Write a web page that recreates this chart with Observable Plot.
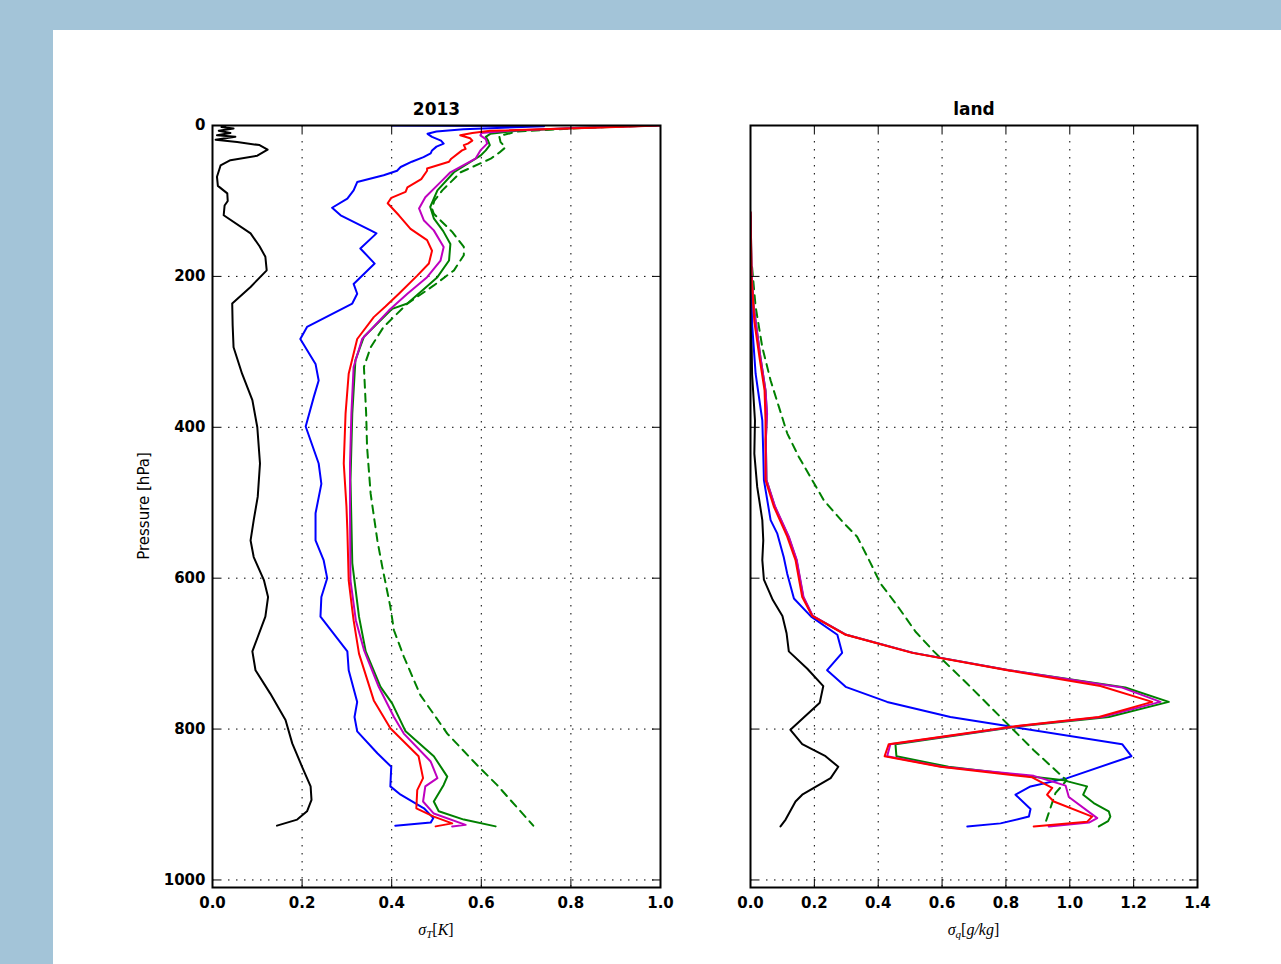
<!DOCTYPE html>
<html><head><meta charset="utf-8">
<script src="https://cdn.jsdelivr.net/npm/d3@7"></script>
<script src="https://cdn.jsdelivr.net/npm/@observablehq/plot@0.6"></script>
<style>
html,body{margin:0;padding:0;width:1281px;height:964px;overflow:hidden;background:#a3c4d8;}
#panel{position:absolute;left:53px;top:30px;width:1228px;height:934px;background:#fff;}
.chart{position:absolute;}
.chart svg{max-width:none;}
</style></head><body>
<div id="panel"></div>
<div id="left" class="chart" style="left:100px;top:90px;width:580px;height:860px"></div>
<div id="right" class="chart" style="left:700px;top:90px;width:520px;height:860px"></div>
<script>
// ---------- data: [pressure hPa, value] ----------
const pressureTicks = [0, 200, 400, 600, 800, 1000];
const tempTicks = [0, 0.2, 0.4, 0.6, 0.8, 1.0];
const humTicks = [0, 0.2, 0.4, 0.6, 0.8, 1.0, 1.2, 1.4];

// left panel: sigma_T [K]
const blackT = [[0,0.03],[2,0.02],[4,0.047],[7,0.014],[10,0.04],[13,0.01],[15,0.051],[19,0.007],[22,0.055],[26,0.105],[32,0.123],[40,0.10],[46,0.04],[53,0.018],[68,0.010],[80,0.012],[90,0.033],[100,0.034],[106,0.027],[119,0.025],[143,0.085],[160,0.105],[174,0.118],[192,0.121],[214,0.085],[236,0.044],[265,0.045],[294,0.047],[329,0.066],[364,0.089],[400,0.1],[448,0.106],[492,0.101],[523,0.092],[550,0.085],[572,0.092],[603,0.115],[625,0.124],[651,0.118],[697,0.089],[722,0.096],[753,0.129],[788,0.163],[819,0.178],[850,0.2],[876,0.219],[894,0.221],[909,0.211],[920,0.189],[928,0.144]];
const blueT = [[0,0.40],[1,0.74],[5,0.56],[8,0.50],[11,0.48],[15,0.49],[20,0.51],[24,0.516],[28,0.50],[33,0.49],[37,0.487],[42,0.471],[48,0.445],[55,0.42],[60,0.412],[66,0.382],[75,0.323],[86,0.315],[97,0.301],[109,0.267],[119,0.286],[139,0.353],[143,0.366],[163,0.33],[183,0.362],[210,0.315],[223,0.323],[236,0.312],[267,0.211],[283,0.196],[316,0.23],[338,0.237],[360,0.226],[399,0.208],[448,0.237],[475,0.243],[514,0.23],[550,0.23],[576,0.248],[600,0.256],[625,0.243],[651,0.241],[697,0.301],[722,0.304],[764,0.323],[784,0.317],[803,0.323],[832,0.368],[850,0.399],[876,0.397],[887,0.42],[905,0.472],[918,0.493],[924,0.487],[928,0.408]];
const redT = [[0,1.0],[3,0.85],[7,0.62],[10,0.58],[13,0.553],[17,0.575],[20,0.58],[24,0.57],[26,0.561],[31,0.565],[33,0.557],[44,0.533],[48,0.528],[57,0.479],[60,0.479],[71,0.466],[82,0.435],[88,0.431],[96,0.399],[103,0.391],[119,0.416],[137,0.442],[152,0.479],[166,0.49],[183,0.483],[199,0.457],[223,0.416],[240,0.386],[254,0.36],[283,0.323],[329,0.304],[382,0.297],[448,0.293],[505,0.299],[536,0.301],[603,0.304],[642,0.312],[656,0.315],[700,0.327],[762,0.36],[799,0.397],[836,0.46],[865,0.47],[881,0.457],[905,0.455],[916,0.494],[925,0.535],[929,0.498]];
const magentaT = [[0,1.0],[3,0.82],[7,0.66],[10,0.6],[13,0.598],[18,0.61],[24,0.613],[33,0.598],[44,0.587],[62,0.531],[75,0.509],[95,0.475],[110,0.461],[126,0.472],[139,0.494],[161,0.516],[179,0.509],[201,0.479],[223,0.435],[245,0.394],[283,0.334],[320,0.315],[382,0.31],[448,0.307],[514,0.307],[603,0.308],[656,0.32],[695,0.338],[744,0.371],[784,0.405],[806,0.427],[843,0.487],[865,0.502],[876,0.475],[896,0.47],[912,0.494],[927,0.565],[929,0.535]];
const greenT = [[0,0.99],[3,0.82],[7,0.68],[11,0.62],[15,0.61],[20,0.615],[26,0.619],[33,0.61],[40,0.598],[62,0.539],[86,0.502],[108,0.486],[123,0.494],[140,0.515],[157,0.531],[179,0.528],[201,0.502],[236,0.435],[243,0.401],[280,0.338],[311,0.319],[382,0.312],[470,0.308],[580,0.312],[651,0.327],[697,0.342],[744,0.375],[766,0.401],[803,0.431],[836,0.494],[863,0.524],[874,0.516],[896,0.494],[909,0.505],[920,0.561],[929,0.632]];
const dashedT = [[0,0.98],[4,0.8],[8,0.68],[14,0.64],[22,0.643],[29,0.654],[36,0.64],[44,0.621],[62,0.554],[86,0.513],[100,0.495],[110,0.49],[117,0.494],[141,0.535],[161,0.561],[172,0.561],[192,0.539],[212,0.494],[236,0.435],[267,0.382],[294,0.353],[320,0.338],[382,0.343],[426,0.345],[488,0.353],[550,0.368],[585,0.379],[638,0.397],[669,0.405],[704,0.427],[755,0.464],[806,0.524],[848,0.591],[874,0.635],[928,0.716]];

// right panel: sigma_q [g/kg]
const blackQ = [[120,0.0],[250,0.002],[330,0.005],[391,0.014],[435,0.012],[479,0.021],[523,0.037],[550,0.04],[576,0.037],[602,0.042],[629,0.07],[650,0.1],[673,0.113],[697,0.12],[720,0.178],[743,0.228],[765,0.217],[801,0.125],[820,0.162],[836,0.235],[850,0.275],[865,0.251],[887,0.162],[896,0.141],[920,0.11],[929,0.094]];
const blueQ = [[150,0.0],[263,0.005],[329,0.016],[391,0.037],[435,0.04],[470,0.042],[523,0.063],[541,0.084],[572,0.104],[594,0.115],[627,0.136],[651,0.19],[675,0.272],[699,0.287],[722,0.24],[744,0.298],[764,0.428],[784,0.626],[796,0.804],[820,1.164],[836,1.193],[865,0.992],[876,0.877],[887,0.83],[906,0.877],[916,0.872],[925,0.783],[929,0.679]];
const redQ = [[115,0.0],[200,0.003],[260,0.012],[307,0.028],[351,0.044],[391,0.047],[470,0.047],[505,0.073],[545,0.115],[576,0.141],[625,0.162],[650,0.193],[675,0.298],[699,0.506],[722,0.804],[743,1.096],[764,1.258],[784,1.091],[796,0.835],[820,0.433],[836,0.42],[850,0.595],[864,0.882],[878,0.945],[887,0.929],[896,0.95],[916,1.07],[923,1.054],[929,0.887]];
const magentaQ = [[115,0.0],[200,0.004],[240,0.01],[307,0.031],[351,0.047],[382,0.052],[417,0.048],[470,0.05],[505,0.077],[545,0.12],[576,0.145],[625,0.166],[650,0.195],[675,0.3],[699,0.51],[722,0.81],[745,1.164],[764,1.284],[784,1.1],[796,0.84],[820,0.438],[836,0.428],[850,0.6],[862,0.887],[875,0.987],[890,0.997],[918,1.086],[924,1.06],[929,0.934]];
const greenQ = [[115,0.0],[200,0.004],[240,0.01],[307,0.031],[351,0.047],[382,0.051],[417,0.048],[470,0.05],[505,0.076],[545,0.119],[576,0.144],[625,0.165],[650,0.194],[675,0.3],[699,0.51],[722,0.81],[745,1.174],[764,1.31],[784,1.122],[796,0.85],[820,0.454],[836,0.457],[850,0.62],[868,0.981],[876,1.054],[887,1.042],[898,1.075],[909,1.122],[916,1.127],[922,1.12],[929,1.091]];
const dashedQ = [[188,0.005],[240,0.016],[294,0.037],[338,0.063],[373,0.089],[408,0.115],[439,0.151],[497,0.23],[527,0.292],[545,0.334],[580,0.376],[607,0.407],[636,0.459],[671,0.517],[697,0.574],[740,0.679],[784,0.783],[828,0.887],[868,0.99],[885,0.955],[929,0.92]];

// ---------- drawing ----------
const styles = {
  black: {stroke: "#000000"},
  blue: {stroke: "#0000ff"},
  dashed: {stroke: "#008000", strokeDasharray: "8,6"},
  green: {stroke: "#008000"},
  magenta: {stroke: "#bf00bf"},
  red: {stroke: "#ff0000"}
};

function makeChart(cfg) {
  const height = 860, marginTop = 35, marginBottom = 63;
  const innerW = cfg.width - cfg.marginLeft - cfg.marginRight;
  const innerH = height - marginTop - marginBottom;
  const gridStyle = {stroke: "black", strokeOpacity: 1, strokeWidth: 1, strokeDasharray: "1.5,6.5"};
  const marks = [
    Plot.gridX(cfg.xTicks, gridStyle),
    Plot.gridY(pressureTicks, gridStyle),
    ...cfg.series.map(([data, key]) => Plot.line(data, {x: d => d[1], y: d => d[0], strokeWidth: 2, clip: true, ...styles[key]})),
    Plot.tickX(cfg.xTicks, {x: d => d, insetTop: innerH - 8, stroke: "black"}),
    Plot.tickX(cfg.xTicks, {x: d => d, insetBottom: innerH - 8, stroke: "black"}),
    Plot.tickY(pressureTicks, {y: d => d, insetRight: innerW - 8, stroke: "black"}),
    Plot.tickY(pressureTicks, {y: d => d, insetLeft: innerW - 8, stroke: "black"}),
    Plot.frame({stroke: "black", strokeWidth: 2}),
    Plot.axisX(cfg.xTicks, {anchor: "bottom", tickSize: 0, tickPadding: 10, tickFormat: d3.format(".1f"), fontWeight: "bold", label: null}),
    Plot.text([cfg.title], {frameAnchor: "top", dy: -23, fontWeight: "bold", fontSize: 17})
  ];
  if (cfg.showY) marks.push(Plot.axisY(pressureTicks, {anchor: "left", tickSize: 0, tickPadding: 7, tickFormat: d3.format("d"), fontWeight: "bold", label: null}));
  const svg = Plot.plot({
    width: cfg.width, height,
    marginLeft: cfg.marginLeft, marginRight: cfg.marginRight, marginTop, marginBottom,
    x: {domain: cfg.xDomain, label: null},
    y: {domain: [0, 1010], reverse: true, label: null, axis: cfg.showY ? undefined : null},
    style: {fontFamily: "DejaVu Sans", fontSize: "15px", color: "black", background: "transparent", overflow: "visible", maxWidth: "none"},
    marks
  });
  const s = d3.select(svg);
  const cx = cfg.marginLeft + innerW / 2;
  const t = s.append("text").attr("x", cx).attr("y", 845).attr("text-anchor", "middle")
    .style("font-family", "'Liberation Serif', serif").style("font-size", "16px").attr("fill", "black");
  t.append("tspan").style("font-style", "italic").text("σ");
  t.append("tspan").style("font-style", "italic").style("font-size", "11px").attr("dy", 3).text(cfg.sub);
  t.append("tspan").attr("dy", -3).text("[");
  t.append("tspan").style("font-style", "italic").text(cfg.unit);
  t.append("tspan").text("]");
  if (cfg.yLabel) {
    s.append("text").attr("transform", `translate(44, ${marginTop + innerH / 2}) rotate(-90)`)
      .attr("text-anchor", "middle").attr("dominant-baseline", "central")
      .style("font-family", "'DejaVu Sans', sans-serif").style("font-size", "15px").attr("fill", "black")
      .text(cfg.yLabel);
  }
  return svg;
}

document.getElementById("left").appendChild(makeChart({
  width: 580, marginLeft: 112, marginRight: 20,
  xDomain: [0, 1.0], xTicks: tempTicks, title: "2013", showY: true, yLabel: "Pressure [hPa]",
  sub: "T", unit: "K",
  series: [[blackT, "black"], [blueT, "blue"], [dashedT, "dashed"], [greenT, "green"], [magentaT, "magenta"], [redT, "red"]]
}));
document.getElementById("right").appendChild(makeChart({
  width: 520, marginLeft: 50, marginRight: 23,
  xDomain: [0, 1.4], xTicks: humTicks, title: "land", showY: false,
  sub: "q", unit: "g/kg",
  series: [[blackQ, "black"], [blueQ, "blue"], [dashedQ, "dashed"], [greenQ, "green"], [magentaQ, "magenta"], [redQ, "red"]]
}));
</script>
</body></html>
